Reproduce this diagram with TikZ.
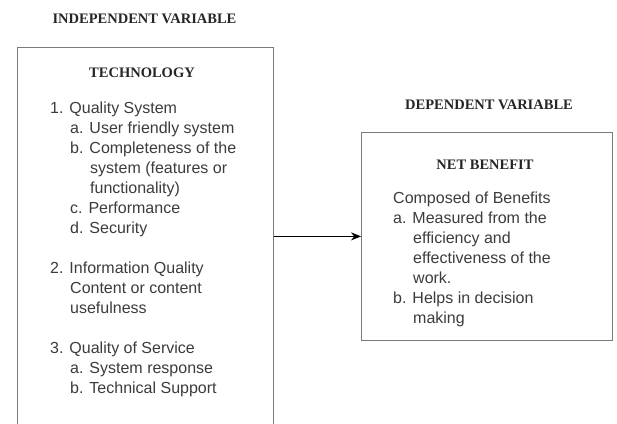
\documentclass[tikz,border=0pt]{standalone}
\usepackage{fontspec}
\setmainfont{Liberation Serif}
\newfontfamily\arialfont{Liberation Sans}
\usetikzlibrary{arrows.meta}
\definecolor{boxgray}{HTML}{7A7A7A}
\definecolor{txtgray}{HTML}{3C3C3C}
\definecolor{headdark}{HTML}{262626}
\begin{document}
\begin{tikzpicture}[x=1pt,y=-1pt,
  frame/.style={draw=boxgray, line width=0.8pt, inner sep=0pt, anchor=north west},
  heading/.style={font=\fontsize{14.5pt}{16pt}\selectfont\bfseries, text=headdark, inner sep=0pt},
  item/.style={font=\arialfont\fontsize{16pt}{20pt}\selectfont, text=txtgray, inner sep=0pt, anchor=base west},
  link/.style={-{Stealth[length=10pt,width=8pt]}, line width=0.8pt, black}]
\useasboundingbox (0,0) rectangle (617,423);
\fill[white] (0,0) rectangle (617,423);
\clip (0,0) rectangle (617,423);
% left side
\node[heading] (indep) at (144.5,19) {INDEPENDENT VARIABLE};
\node[frame, minimum width=256pt, minimum height=420pt] (tech) at (17,46.5) {};
\node[heading] (techtitle) at (142,73) {TECHNOLOGY};
\foreach \x/\y/\t [count=\i] in {
  50/108/{1. Quality System},
  70/128/{a. User friendly system},
  70/148/{b. Completeness of the},
  90/168/{system (features or},
  90/188/{functionality)},
  70/208/{c. Performance},
  70/228/{d. Security},
  50/268/{2. Information Quality},
  70/288/{Content or content},
  70/308/{usefulness},
  50/348/{3. Quality of Service},
  70/368/{a. System response},
  70/388/{b. Technical Support}}
  \node[item] (lt\i) at (\x,\y+5.7) {\t};
% right side
\node[heading] (dep) at (489,105) {DEPENDENT VARIABLE};
\node[frame, minimum width=251pt, minimum height=208pt] (nb) at (361,132) {};
\node[heading] (nbtitle) at (485,165) {NET BENEFIT};
\foreach \x/\y/\t [count=\i] in {
  393/198/{Composed of Benefits},
  393/218/{a. Measured from the},
  413/238/{efficiency and},
  413/258/{effectiveness of the},
  413/278/{work.},
  393/298/{b. Helps in decision},
  413/318/{making}}
  \node[item] (rt\i) at (\x,\y+5.7) {\t};
% connector
\draw[link] (tech.east |- nb.west) -- (nb.west);
\end{tikzpicture}
\end{document}
